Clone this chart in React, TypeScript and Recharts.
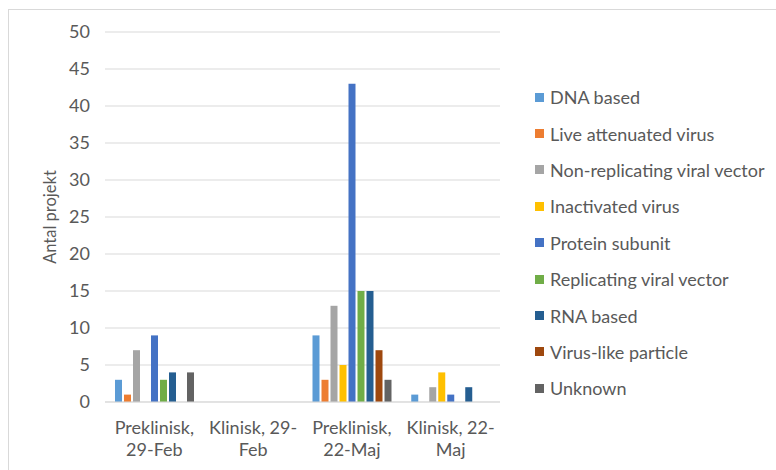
import { BarChart, Bar, XAxis, YAxis, CartesianGrid } from 'recharts'

const categories = ['Preklinisk, 29-Feb', 'Klinisk, 29-Feb', 'Preklinisk, 22-Maj', 'Klinisk, 22-Maj']
const tickLines = [['Preklinisk,', '29-Feb'], ['Klinisk, 29-', 'Feb'], ['Preklinisk,', '22-Maj'], ['Klinisk, 22-', 'Maj']]
const yTicks = [0, 5, 10, 15, 20, 25, 30, 35, 40, 45, 50]

const seriesNames = [
  'DNA based', 'Live attenuated virus', 'Non-replicating viral vector', 'Inactivated virus',
  'Protein subunit', 'Replicating viral vector', 'RNA based', 'Virus-like particle', 'Unknown',
]
const dnaBased = [3, 0, 9, 1]
const liveAttenuated = [1, 0, 3, 0]
const nonReplicating = [7, 0, 13, 2]
const inactivated = [0, 0, 5, 4]
const proteinSubunit = [9, 0, 43, 1]
const replicating = [3, 0, 15, 0]
const rnaBased = [4, 0, 15, 2]
const virusLike = [0, 0, 7, 0]
const unknown = [4, 0, 3, 0]

const seriesValues = [dnaBased, liveAttenuated, nonReplicating, inactivated, proteinSubunit, replicating, rnaBased, virusLike, unknown]
const colors = ['#5B9BD5', '#ED7D31', '#A5A5A5', '#FFC000', '#4472C4', '#70AD47', '#255E91', '#9E480E', '#636363']

const data = categories.map((c, i) => {
  const row: Record<string, string | number> = { cat: c }
  seriesNames.forEach((s, j) => { row[s] = seriesValues[j][i] })
  return row
})

const FONT = 'Lato, "Open Sans", sans-serif'
const TXT = '#595959'

const CatTick = ({ x, y, index }: any) => {
  const lines = tickLines[index] || []
  return (
    <text x={x} y={y} textAnchor="middle" fill={TXT} fontSize={18} fontFamily={FONT}>
      {lines.map((l, k) => (
        <tspan key={k} x={x} dy={k === 0 ? 24 : 22}>{l}</tspan>
      ))}
    </text>
  )
}

export default function App() {
  return (
    <div style={{ position: 'absolute', left: 0, top: 0, width: 776, height: 470, overflow: 'hidden', background: '#fff' }}>
      <div style={{ position: 'absolute', left: 8, top: 9, width: 800, height: 500, borderTop: '1px solid #D9D9D9', borderLeft: '1px solid #D9D9D9' }} />
      <BarChart width={776} height={470} data={data} barSize={7} barGap={2}
        margin={{ top: 32, right: 276, bottom: 8, left: 45 }}>
        <CartesianGrid stroke="#D9D9D9" vertical={false} />
        <XAxis dataKey="cat" height={60} interval={0} axisLine={{ stroke: '#D9D9D9' }} tickLine={false} tick={<CatTick />} />
        <YAxis domain={[0, 50]} ticks={yTicks} width={60} axisLine={false} tickLine={false} tickSize={0} tickMargin={15}
          tick={{ fill: TXT, fontSize: 18, fontFamily: FONT }}
          label={{ value: 'Antal projekt', angle: -90, position: 'insideLeft', offset: 5, fill: TXT, fontSize: 16.5, fontFamily: FONT, style: { textAnchor: 'middle' } }} />
        {seriesNames.map((s, j) => (
          <Bar key={s} dataKey={s} fill={colors[j]} isAnimationActive={false} />
        ))}
      </BarChart>
      <div style={{ position: 'absolute', left: 535, top: 79, fontFamily: FONT, fontSize: 18, color: TXT }}>
        {seriesNames.map((s, j) => (
          <div key={s} style={{ display: 'flex', alignItems: 'center', height: 36.4, whiteSpace: 'nowrap' }}>
            <span style={{ display: 'inline-block', width: 9, height: 9, background: colors[j], marginRight: 6 }} />
            {s}
          </div>
        ))}
      </div>
    </div>
  )
}
